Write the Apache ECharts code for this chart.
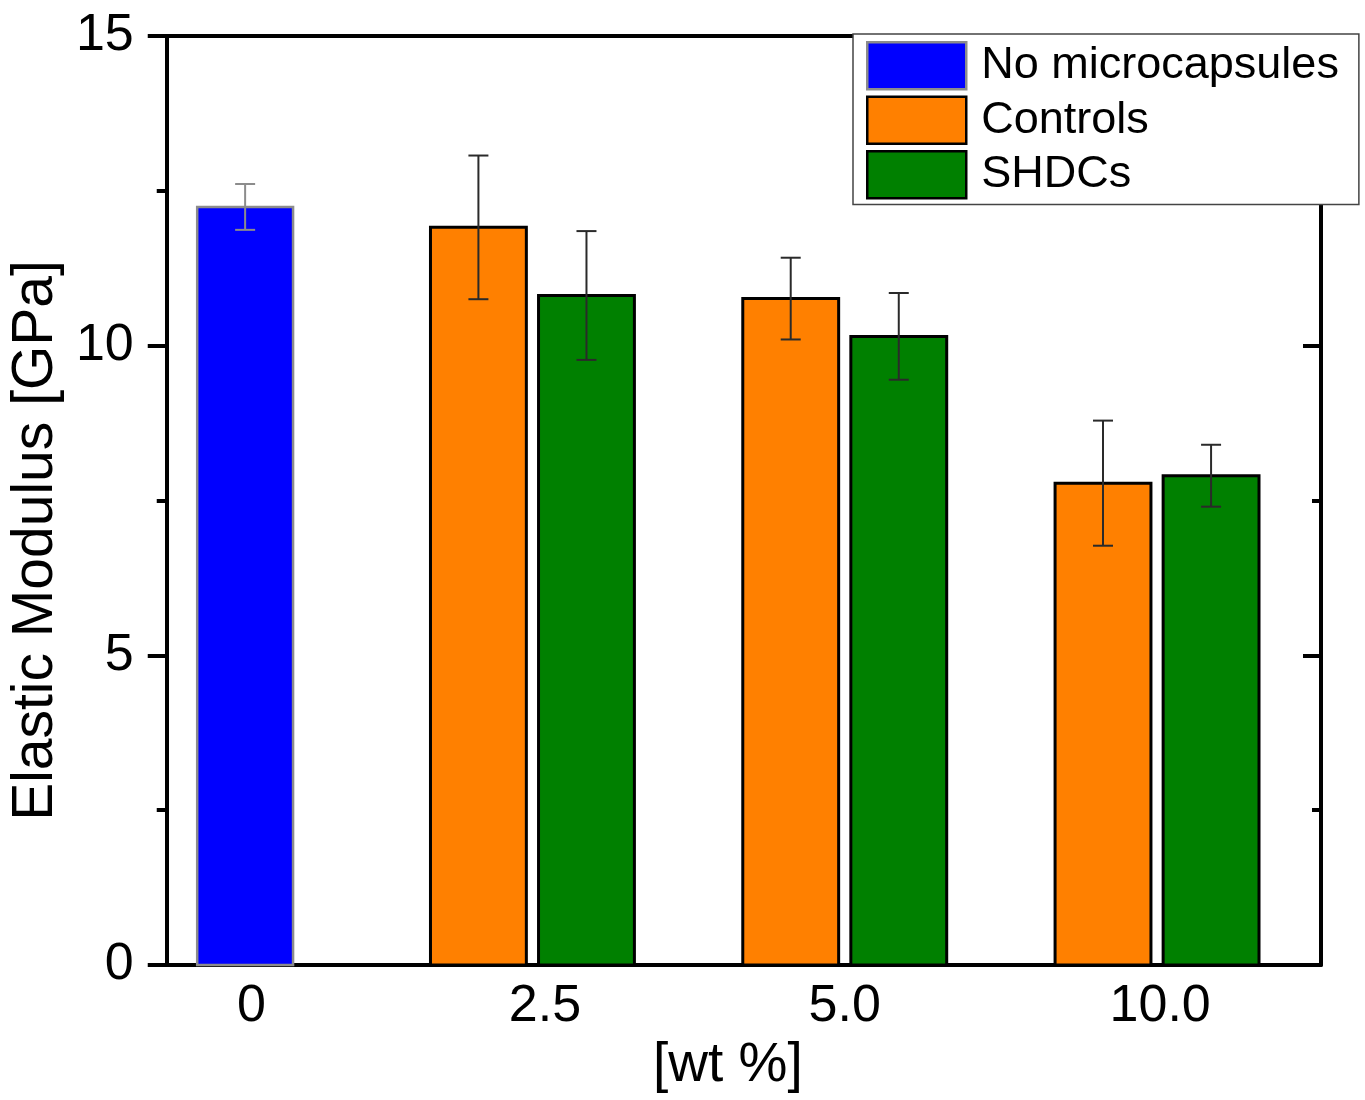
<!DOCTYPE html>
<html>
<head>
<meta charset="utf-8">
<script src="https://cdn.jsdelivr.net/npm/echarts@6/dist/echarts.min.js"></script>
<style>
  html, body { margin: 0; padding: 0; background: #fff; }
  #chart { width: 1365px; height: 1100px; }
</style>
</head>
<body>
<div id="chart"></div>
<script>
var categories = ['0', '2.5', '5.0', '10.0'];
var noCapsValue = [12.24];
var noCapsErr = [0.37];
var controlsValue = [11.91, 10.76, 7.78];
var controlsErr = [1.16, 0.66, 1.01];
var shdcValue = [10.81, 10.15, 7.90];
var shdcErr = [1.04, 0.70, 0.50];
var yTicks = [0, 5, 10, 15];

// layout of the groups on a hidden numeric x scale
var groupPos = [0.08, 1, 2, 3];
var labelPos = [0.10, 1.04, 2, 3.01];
var pairOffset = 0.173;
var barW = 0.307;
var font = "'Liberation Sans', Arial, sans-serif";

function makeRender(borderColor, borderWidth, errColor) {
    return function (params, api) {
        var x = api.value(0), v = api.value(1), e = api.value(2);
        var base = api.coord([x, 0]);
        var top = api.coord([x, v]);
        var hi = api.coord([x, v + e]);
        var lo = api.coord([x, v - e]);
        var w = api.size([barW, 0])[0];
        var color = api.visual('color');
        return {
            type: 'group',
            children: [
                {
                    type: 'rect',
                    shape: { x: base[0] - w / 2, y: top[1], width: w, height: base[1] - top[1] },
                    style: { fill: color, stroke: borderColor, lineWidth: borderWidth }
                },
                {
                    type: 'line',
                    shape: { x1: hi[0], y1: hi[1], x2: lo[0], y2: lo[1] },
                    style: { stroke: errColor, lineWidth: 2 }
                },
                {
                    type: 'line',
                    shape: { x1: hi[0] - 10, y1: hi[1], x2: hi[0] + 10, y2: hi[1] },
                    style: { stroke: errColor, lineWidth: 2 }
                },
                {
                    type: 'line',
                    shape: { x1: lo[0] - 10, y1: lo[1], x2: lo[0] + 10, y2: lo[1] },
                    style: { stroke: errColor, lineWidth: 2 }
                }
            ]
        };
    };
}

function pack(values, errs, startGroup, offset) {
    return values.map(function (v, i) {
        return [groupPos[startGroup + i] + offset, v, errs[i]];
    });
}

var xMin = -0.171, xMax = 3.525;

var option = {
    backgroundColor: '#fff',
    animation: false,
    grid: { left: 166, right: 44, top: 36, bottom: 135 },
    legend: {
        orient: 'vertical',
        left: 853,
        top: 34,
        padding: [7, 20, 5, 13],
        itemGap: 5,
        itemWidth: 99,
        itemHeight: 47,
        icon: 'rect',
        backgroundColor: '#fff',
        borderColor: '#444',
        borderWidth: 1.5,
        textStyle: { fontFamily: font, fontSize: 45, lineHeight: 47, color: '#000', padding: [0, 0, 0, 10] },
        data: [
            { name: 'No microcapsules', itemStyle: { color: '#0000ff', borderColor: '#8c8c8c', borderWidth: 2.5 } },
            { name: 'Controls', itemStyle: { color: '#ff8000', borderColor: '#000', borderWidth: 2.5 } },
            { name: 'SHDCs', itemStyle: { color: '#008000', borderColor: '#000', borderWidth: 2.5 } }
        ]
    },
    xAxis: [
        {
            type: 'value',
            min: xMin,
            max: xMax,
            position: 'bottom',
            name: '[wt %]',
            nameLocation: 'middle',
            nameGap: 70,
            nameTextStyle: { fontFamily: font, fontSize: 55, color: '#000', padding: [0, 32, 0, 0] },
            axisLine: { show: true, onZero: false, lineStyle: { color: '#000', width: 4 } },
            axisTick: { show: false },
            splitLine: { show: false },
            axisLabel: {
                customValues: labelPos,
                margin: 16,
                fontFamily: font,
                fontSize: 52,
                color: '#000',
                formatter: function (val) {
                    var i = labelPos.indexOf(val);
                    return i >= 0 ? categories[i] : '';
                }
            }
        },
        {
            type: 'value',
            min: xMin,
            max: xMax,
            position: 'top',
            axisLine: { show: true, onZero: false, lineStyle: { color: '#000', width: 4 } },
            axisTick: { show: false },
            axisLabel: { show: false },
            splitLine: { show: false }
        }
    ],
    yAxis: [
        {
            type: 'value',
            min: yTicks[0],
            max: yTicks[yTicks.length - 1],
            interval: 5,
            position: 'left',
            name: 'Elastic Modulus [GPa]',
            nameLocation: 'middle',
            nameGap: 88,
            nameTextStyle: { fontFamily: font, fontSize: 57, color: '#000', padding: [0, 80, 0, 0] },
            axisLine: { show: true, onZero: false, lineStyle: { color: '#000', width: 4 } },
            axisTick: { show: true, inside: false, length: 19, lineStyle: { color: '#000', width: 4 } },
            minorTick: { show: true, splitNumber: 2, length: 10, lineStyle: { color: '#000', width: 4 } },
            splitLine: { show: false },
            axisLabel: { margin: 33, fontFamily: font, fontSize: 52, color: '#000' }
        },
        {
            type: 'value',
            min: yTicks[0],
            max: yTicks[yTicks.length - 1],
            interval: 5,
            position: 'right',
            axisLine: { show: true, onZero: false, lineStyle: { color: '#000', width: 4 } },
            axisTick: { show: true, inside: true, length: 18, lineStyle: { color: '#000', width: 4 } },
            minorTick: { show: true, splitNumber: 2, length: 9, lineStyle: { color: '#000', width: 4 } },
            splitLine: { show: false },
            axisLabel: { show: false }
        }
    ],
    series: [
        {
            name: 'No microcapsules',
            type: 'custom',
            itemStyle: { color: '#0000ff' },
            renderItem: makeRender('#8c8c8c', 2.5, '#8c8c8c'),
            encode: { x: 0, y: 1 },
            data: pack(noCapsValue, noCapsErr, 0, 0)
        },
        {
            name: 'Controls',
            type: 'custom',
            itemStyle: { color: '#ff8000' },
            renderItem: makeRender('#000', 3, '#2a2a2a'),
            encode: { x: 0, y: 1 },
            data: pack(controlsValue, controlsErr, 1, -pairOffset)
        },
        {
            name: 'SHDCs',
            type: 'custom',
            itemStyle: { color: '#008000' },
            renderItem: makeRender('#000', 3, '#2a2a2a'),
            encode: { x: 0, y: 1 },
            data: pack(shdcValue, shdcErr, 1, pairOffset)
        }
    ]
};

var myChart = echarts.init(document.getElementById('chart'));
myChart.setOption(option);
</script>
</body>
</html>
